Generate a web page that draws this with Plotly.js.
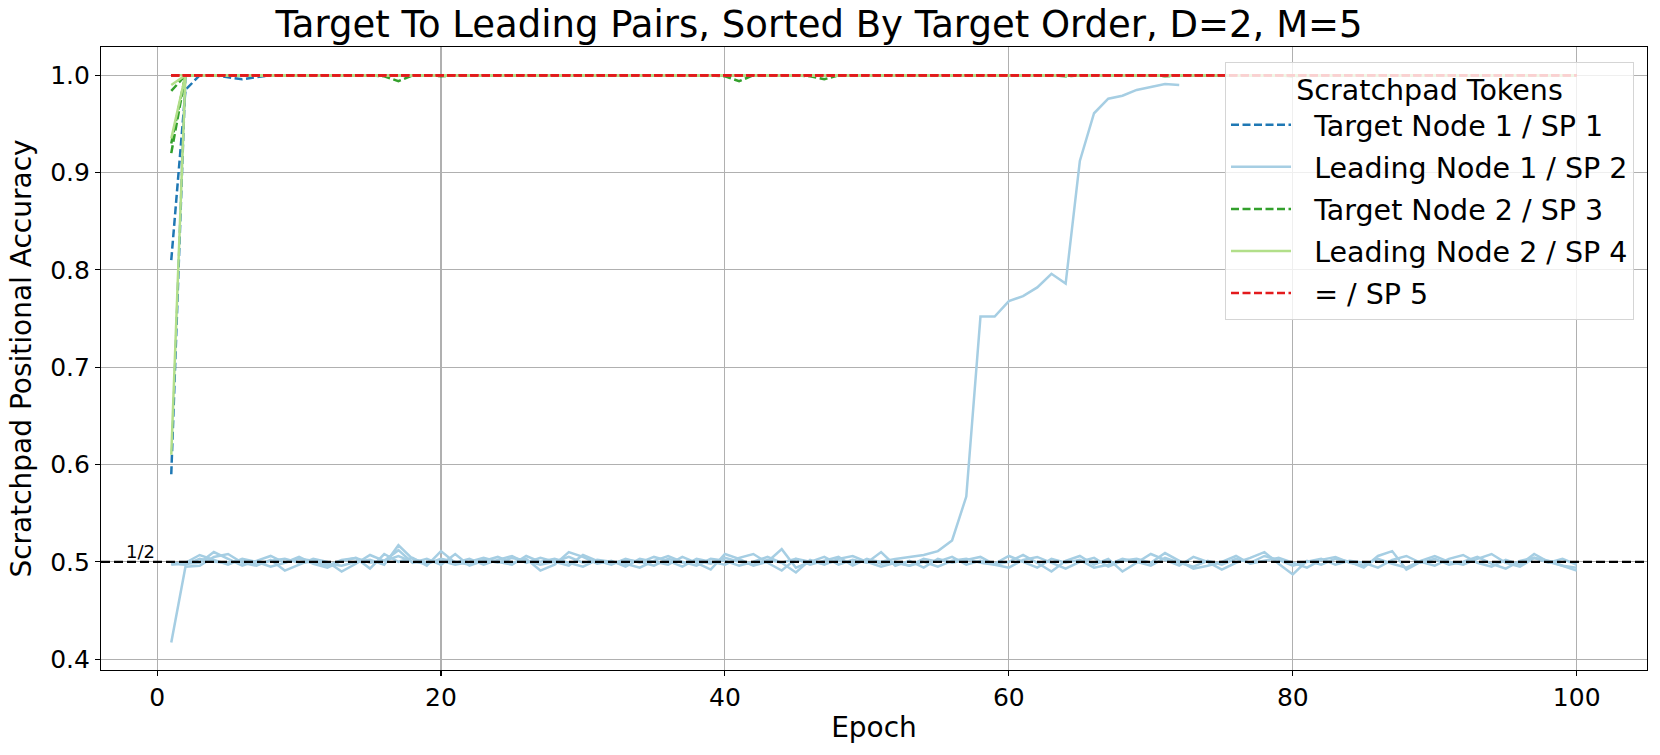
<!DOCTYPE html>
<html>
<head>
<meta charset="utf-8">
<script src="https://cdn.plot.ly/plotly-3.0.1.min.js"></script>
<style>html,body{margin:0;padding:0;background:#fff;}#chart{width:1660px;height:755px;}</style>
</head>
<body>
<div id="chart"></div>
<script>
// ---------- data ----------
const chartTitle = "Target To Leading Pairs, Sorted By Target Order, D=2, M=5";
const xLabel = "Epoch";
const yLabel = "Scratchpad Positional Accuracy";
const legendTitle = "Scratchpad Tokens";
const seriesNames = ["Target Node 1 / SP 1", "Leading Node 1 / SP 2", "Target Node 2 / SP 3", "Leading Node 2 / SP 4", "= / SP 5"];
const seriesColors = ["#1f78b4", "#a6cee3", "#33a02c", "#b2df8a", "#e31a1c"];
const seriesDashed = [true, false, true, false, true];
const chanceLevel = 0.5;
const chanceLabel = "1/2";
const xTicks = [0, 20, 40, 60, 80, 100];
const yTicks = [0.4, 0.5, 0.6, 0.7, 0.8, 0.9, 1.0];

// run A stops at epoch 72, runs B, C, D go to epoch 100
const sp1_A = [0.81,0.985,1,1,1,1,1,1,1,1, 1,1,1,1,1,1,1,1,1,1, 1,1,1,1,1,1,1,1,1,1, 1,1,1,1,1,1,1,1,1,1,
  1,1,1,1,1,1,1,1,1,1, 1,1,1,1,1,1,1,1,1,1, 1,1,1,1,1,1,1,1,1,1, 1,1];
const sp1_B = [0.59,1,1,1,0.998,0.996,0.998,1,1,1, 1,1,1,1,1,1,1,1,1,1, 1,1,1,1,1,1,1,1,1,1, 1,1,1,1,1,1,1,1,1,1,
  1,1,1,1,1,1,1,1,1,1, 1,1,1,1,1,1,1,1,1,1, 1,1,1,1,1,1,1,1,1,1, 1,1,1,1,1,1,1,1,1,1,
  1,1,1,1,1,1,1,1,1,1, 1,1,1,1,1,1,1,1,1,1];
const sp1_C = [1,1,1,1,1,1,1,1,1,1, 1,1,1,1,1,1,1,1,1,1, 1,1,1,1,1,1,1,1,1,1, 1,1,1,1,1,1,1,1,1,1,
  1,1,1,1,1,1,1,1,1,1, 1,1,1,1,1,1,1,1,1,1, 1,1,1,1,1,1,1,1,1,1, 1,1,1,1,1,1,1,1,1,1,
  1,1,1,1,1,1,1,1,1,1, 1,1,1,1,1,1,1,1,1,1];
const sp1_D = [1,1,1,1,1,1,1,1,1,1, 1,1,1,1,1,1,1,1,1,1, 1,1,1,1,1,1,1,1,1,1, 1,1,1,1,1,1,1,1,1,1,
  1,1,1,1,1,1,1,1,1,1, 1,1,1,1,1,1,1,1,1,1, 1,1,1,1,1,1,1,1,1,1, 1,1,1,1,1,1,1,1,1,1,
  1,1,1,1,1,1,1,1,1,1, 1,1,1,1,1,1,1,1,1,1];

const sp2_A = [0.498,0.497,0.503,0.500,0.499,0.502,0.497,0.501,0.503,0.499,
  0.500,0.496,0.502,0.504,0.499,0.501,0.506,0.500,0.498,0.503,
  0.500,0.497,0.502,0.499,0.504,0.501,0.497,0.500,0.505,0.499,
  0.501,0.498,0.502,0.500,0.496,0.503,0.499,0.501,0.498,0.504,
  0.500,0.497,0.502,0.499,0.503,0.500,0.498,0.501,0.499,0.502,
  0.500,0.503,0.505,0.507,0.511,0.522,0.567,0.752,0.752,0.768,
  0.773,0.782,0.796,0.786,0.912,0.961,0.976,0.979,0.985,0.988,
  0.991,0.990];
const sp2_B = [0.417,0.495,0.496,0.505,0.508,0.499,0.496,0.502,0.491,0.497,
  0.503,0.500,0.490,0.498,0.507,0.501,0.512,0.499,0.503,0.497,
  0.508,0.496,0.501,0.505,0.499,0.503,0.491,0.497,0.510,0.505,
  0.498,0.501,0.495,0.503,0.500,0.497,0.505,0.499,0.492,0.508,
  0.503,0.496,0.500,0.513,0.494,0.500,0.505,0.497,0.502,0.499,
  0.510,0.496,0.501,0.494,0.503,0.499,0.502,0.505,0.497,0.500,
  0.507,0.499,0.490,0.501,0.506,0.497,0.503,0.490,0.499,0.508,
  0.502,0.496,0.505,0.500,0.492,0.499,0.504,0.510,0.498,0.487,
  0.501,0.497,0.503,0.500,0.494,0.506,0.511,0.492,0.500,0.496,
  0.503,0.507,0.499,0.495,0.502,0.497,0.508,0.500,0.496,0.491];
const sp2_C = [0.497,0.499,0.507,0.502,0.497,0.503,0.500,0.495,0.499,0.505,
  0.498,0.494,0.501,0.504,0.493,0.508,0.500,0.504,0.496,0.511,
  0.499,0.503,0.497,0.502,0.506,0.499,0.504,0.500,0.496,0.507,
  0.501,0.497,0.503,0.499,0.505,0.501,0.495,0.503,0.500,0.497,
  0.504,0.508,0.499,0.491,0.503,0.497,0.501,0.505,0.496,0.503,
  0.498,0.500,0.496,0.503,0.500,0.505,0.497,0.501,0.498,0.506,
  0.500,0.494,0.503,0.499,0.502,0.494,0.497,0.503,0.500,0.496,
  0.504,0.499,0.495,0.501,0.497,0.503,0.499,0.506,0.502,0.496,
  0.500,0.503,0.497,0.501,0.499,0.494,0.502,0.506,0.499,0.503,
  0.497,0.500,0.505,0.498,0.493,0.501,0.504,0.499,0.503,0.497];
const sp2_D = [0.499,0.498,0.499,0.510,0.503,0.496,0.501,0.506,0.499,0.503,
  0.501,0.498,0.496,0.500,0.502,0.497,0.517,0.503,0.499,0.501,
  0.497,0.500,0.504,0.500,0.497,0.506,0.500,0.503,0.499,0.495,
  0.502,0.500,0.498,0.494,0.501,0.506,0.500,0.496,0.503,0.501,
  0.496,0.500,0.505,0.499,0.489,0.502,0.497,0.503,0.506,0.500,
  0.495,0.499,0.496,0.500,0.495,0.501,0.503,0.499,0.497,0.494,
  0.502,0.505,0.499,0.493,0.500,0.504,0.495,0.501,0.503,0.499,
  0.509,0.501,0.493,0.496,0.500,0.506,0.498,0.501,0.504,0.499,
  0.494,0.502,0.505,0.499,0.496,0.503,0.498,0.494,0.501,0.506,
  0.500,0.497,0.503,0.508,0.499,0.495,0.504,0.501,0.496,0.494];

const sp3_A = [0.984,1,1,1,1,1,1,1,1,1, 1,1,1,1,1,1,1,1,1,1, 1,1,1,1,1,1,1,1,1,1, 1,1,1,1,1,1,1,1,1,1,
  1,1,1,1,1,0.999,0.996,1,1,1, 1,1,1,1,1,1,1,1,1,1, 1,1,1,1,1,1,1,1,1,1, 1,1];
const sp3_B = [0.93,1,1,1,1,1,1,1,1,1, 1,1,1,1,1,1,1,1,1,0.999, 1,1,1,1,1,1,1,1,1,1, 1,1,1,1,1,1,1,1,1,1,
  1,1,1,1,1,1,1,1,1,1, 1,1,1,1,1,1,1,1,1,1, 1,1,1,0.999,1,1,1,1,1,1, 1,1,1,1,1,1,1,1,1,1,
  1,1,1,1,1,1,1,1,1,1, 1,1,1,1,1,1,1,1,1,1];
const sp3_C = [0.92,1,1,1,1,1,1,1,1,1, 1,1,1,1,1,0.999,0.994,1,1,1, 1,1,1,1,1,1,1,1,1,1, 1,1,1,1,1,1,1,1,1,1,
  1,1,1,1,1,1,1,1,1,1, 1,1,1,1,1,1,1,1,1,1, 1,1,1,1,1,1,1,1,1,1, 0.999,1,1,1,1,1,1,1,1,1,
  1,1,1,1,1,1,1,1,1,1, 1,1,1,1,1,1,1,1,1,1];
const sp3_D = [1,1,1,1,1,1,1,1,1,1, 1,1,1,1,1,1,1,1,1,1, 1,1,1,1,1,1,1,1,1,1, 1,1,1,1,1,1,1,1,1,0.999,
  0.994,1,1,1,1,1,1,1,1,1, 1,1,1,1,1,1,1,1,1,1, 1,1,1,1,1,1,1,1,1,1, 1,1,1,1,1,1,1,1,1,0.999,
  1,1,1,1,1,1,1,1,1,1, 1,1,1,1,1,1,1,1,1,1];

const sp4_A = [0.99,1,1,1,1,1,1,1,1,1, 1,1,1,1,1,1,1,1,1,1, 1,1,1,1,1,1,1,1,1,1, 1,1,1,1,1,1,1,1,1,1,
  1,1,1,1,1,1,1,1,1,1, 1,1,1,1,1,1,1,1,1,1, 1,1,1,1,1,1,1,1,1,1, 1,1];
const sp4_B = [0.935,1,1,1,1,1,1,1,1,1, 1,1,1,1,1,1,1,1,1,1, 1,1,1,1,1,1,1,1,1,1, 1,1,1,1,1,1,1,1,1,1,
  1,1,1,1,1,1,1,1,1,1, 1,1,1,1,1,1,1,1,1,1, 1,1,1,1,1,1,1,1,1,1, 1,1,1,1,1,1,1,1,1,1,
  1,1,1,1,1,1,1,1,1,1, 1,1,1,1,1,1,1,1,1,1];
const sp4_C = [0.61,1,1,1,1,1,1,1,1,1, 1,1,1,1,1,1,1,1,1,1, 1,1,1,1,1,1,1,1,1,1, 1,1,1,1,1,1,1,1,1,1,
  1,1,1,1,1,1,1,1,1,1, 1,1,1,1,1,1,1,1,1,1, 1,1,1,1,1,1,1,1,1,1, 1,1,1,1,1,1,1,1,1,1,
  1,1,1,1,1,1,1,1,1,1, 1,1,1,1,1,1,1,1,1,1];
const sp4_D = [1,1,1,1,1,1,1,1,1,1, 1,1,1,1,1,1,1,1,1,1, 1,1,1,1,1,1,1,1,1,1, 1,1,1,1,1,1,1,1,1,1,
  1,1,1,1,1,1,1,1,1,1, 1,1,1,1,1,1,1,1,1,1, 1,1,1,1,1,1,1,1,1,1, 1,1,1,1,1,1,1,1,1,1,
  1,1,1,1,1,1,1,1,1,1, 1,1,1,1,1,1,1,1,1,1];

const sp5_A = [1,1,1,1,1,1,1,1,1,1, 1,1,1,1,1,1,1,1,1,1, 1,1,1,1,1,1,1,1,1,1, 1,1,1,1,1,1,1,1,1,1,
  1,1,1,1,1,1,1,1,1,1, 1,1,1,1,1,1,1,1,1,1, 1,1,1,1,1,1,1,1,1,1, 1,1];
const sp5_B = [1,1,1,1,1,1,1,1,1,1, 1,1,1,1,1,1,1,1,1,1, 1,1,1,1,1,1,1,1,1,1, 1,1,1,1,1,1,1,1,1,1,
  1,1,1,1,1,1,1,1,1,1, 1,1,1,1,1,1,1,1,1,1, 1,1,1,1,1,1,1,1,1,1, 1,1,1,1,1,1,1,1,1,1,
  1,1,1,1,1,1,1,1,1,1, 1,1,1,1,1,1,1,1,1,1];
const sp5_C = sp5_B.slice();
const sp5_D = sp5_B.slice();

const seriesRuns = [
  [sp1_A, sp1_B, sp1_C, sp1_D],
  [sp2_A, sp2_B, sp2_C, sp2_D],
  [sp3_A, sp3_B, sp3_C, sp3_D],
  [sp4_A, sp4_B, sp4_C, sp4_D],
  [sp5_A, sp5_B, sp5_C, sp5_D]
];

// ---------- build traces ----------
const FONT = "DejaVu Sans, Verdana, sans-serif";
const traces = [];
seriesRuns.forEach((runs, si) => {
  runs.forEach((vals, ri) => {
    traces.push({
      type: "scatter", mode: "lines",
      x: vals.map((_, i) => i + 1), y: vals,
      name: "\u00a0\u00a0" + seriesNames[si],
      legendgroup: "g" + si,
      showlegend: ri === 0,
      line: { color: seriesColors[si], width: 2.5, dash: seriesDashed[si] ? "8px,3.5px" : "solid" },
      hoverinfo: "skip"
    });
  });
});

const axisCommon = {
  showline: true, mirror: true, linecolor: "#000", linewidth: 1.1,
  ticks: "outside", ticklen: 5, tickwidth: 1.1, tickcolor: "#000",
  showgrid: true, gridcolor: "#b0b0b0", gridwidth: 1.1, zeroline: false,
  tickfont: { family: FONT, size: 25, color: "#000" }
};

const layout = {
  width: 1660, height: 755,
  margin: { l: 101, r: 13, t: 47, b: 85 },
  paper_bgcolor: "#fff", plot_bgcolor: "#fff",
  font: { family: FONT, color: "#000" },
  title: { text: chartTitle, font: { family: FONT, size: 37, color: "#000" },
           x: 819 / 1660, xanchor: "center", y: 1 - 24 / 755, yanchor: "middle", yref: "container" },
  xaxis: Object.assign({}, axisCommon, {
    range: [-3.95, 104.95], tickvals: xTicks, ticktext: xTicks.map(String),
    title: { text: xLabel, font: { family: FONT, size: 28, color: "#000" }, standoff: 6 }
  }),
  yaxis: Object.assign({}, axisCommon, {
    range: [0.3888, 1.0291], tickvals: yTicks, ticktext: yTicks.map(v => v.toFixed(1)),
    title: { text: yLabel, font: { family: FONT, size: 28, color: "#000" }, standoff: 10 }
  }),
  shapes: [{
    type: "line", xref: "paper", x0: 0, x1: 1, yref: "y", y0: chanceLevel, y1: chanceLevel,
    line: { color: "#000", width: 2.2, dash: "9px,4px" }, layer: "above"
  }],
  annotations: [{
    text: chanceLabel, x: 0, y: chanceLevel, xref: "x", yref: "y",
    xanchor: "right", yanchor: "bottom", showarrow: false, yshift: -2,
    font: { family: FONT, size: 18, color: "#000" }
  }],
  legend: {
    x: 0.9916, y: 0.9764, xanchor: "right", yanchor: "top",
    bgcolor: "rgba(255,255,255,0.8)", bordercolor: "#d5d5d5", borderwidth: 1,
    font: { family: FONT, size: 28.5, color: "#000" },
    title: { text: legendTitle, side: "top center", font: { family: FONT, size: 28.5, color: "#000" } },
    tracegroupgap: 2, itemwidth: 60
  },
  showlegend: true
};

Plotly.newPlot("chart", traces, layout, { displayModeBar: false, staticPlot: true });
</script>
</body>
</html>
